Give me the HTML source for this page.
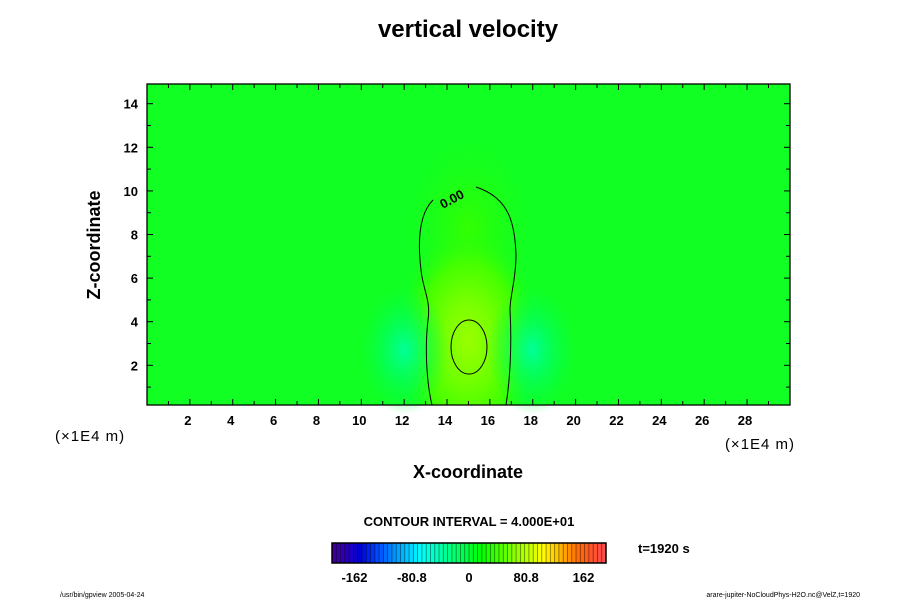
<!DOCTYPE html>
<html><head><meta charset="utf-8"><style>
body{margin:0;background:#fff;width:900px;height:600px;overflow:hidden;font-family:"Liberation Sans",sans-serif}
svg text{font-family:"Liberation Sans",sans-serif;font-weight:bold}
</style></head><body>
<svg id="c" width="900" height="600">
<defs>
<radialGradient id="gUp" cx="468" cy="340" r="70" gradientUnits="userSpaceOnUse" gradientTransform="translate(468 340) scale(1 1.6) translate(-468 -340)">
<stop offset="0" stop-color="#99ff00"/><stop offset="0.35" stop-color="#77ff00"/><stop offset="0.7" stop-color="#44ff00"/><stop offset="1" stop-color="#22ff11" stop-opacity="0"/></radialGradient>
<radialGradient id="gUp2" cx="468" cy="230" r="60" gradientUnits="userSpaceOnUse" gradientTransform="translate(468 230) scale(1 1.5) translate(-468 -230)">
<stop offset="0" stop-color="#33ff00"/><stop offset="1" stop-color="#22ff11" stop-opacity="0"/></radialGradient>
<radialGradient id="gDn" cx="0.5" cy="0.5" r="0.5"><stop offset="0" stop-color="#00ff99"/><stop offset="0.5" stop-color="#00ff66" stop-opacity="0.6"/><stop offset="1" stop-color="#00ff44" stop-opacity="0"/></radialGradient>
</defs>
<text x="468" y="37" font-size="24" text-anchor="middle">vertical velocity</text>
<g id="plot">
<rect x="147" y="84" width="643" height="321" fill="#11ff22"/>
<rect x="147" y="84" width="643" height="321" fill="url(#gUp2)"/>
<rect x="147" y="84" width="643" height="321" fill="url(#gUp)"/>
<ellipse cx="404" cy="350" rx="45" ry="65" fill="url(#gDn)"/>
<ellipse cx="532" cy="350" rx="45" ry="65" fill="url(#gDn)"/>
<path d="M433,200 C418,215 418,245 421,270 C423,290 431,300 428,320 C425,345 426,380 432,405 M476,187 C510,198 515,225 516,255 C516,280 510,295 510,310 C512,345 510,380 506,405" fill="none" stroke="#000" stroke-width="1"/>
<ellipse cx="469" cy="347" rx="18" ry="27" fill="none" stroke="#000" stroke-width="1"/>
<text x="454" y="203" font-size="13" text-anchor="middle" transform="rotate(-28 454 203)">0.00</text>
<rect x="147" y="84" width="643" height="321" fill="none" stroke="#000" stroke-width="1.3"/>
</g>
<g id="axes"></g>
<text x="55" y="441" font-size="15" style="font-weight:normal;letter-spacing:1px">(×1E4 m)</text>
<text x="760" y="449" font-size="15" style="font-weight:normal;letter-spacing:1px" text-anchor="middle">(×1E4 m)</text>
<text x="468" y="478" font-size="18" text-anchor="middle">X-coordinate</text>
<text x="100" y="245" font-size="18" text-anchor="middle" transform="rotate(-90 100 245)">Z-coordinate</text>
<text x="469" y="526" font-size="13" text-anchor="middle">CONTOUR INTERVAL = 4.000E+01</text>
<g id="cbar"></g>
<text x="638" y="553" font-size="13">t=1920 s</text>
<text x="60" y="597" font-size="7" style="font-weight:normal">/usr/bin/gpview 2005-04-24</text>
<text x="860" y="597" font-size="7" style="font-weight:normal" text-anchor="end">arare-jupiter-NoCloudPhys-H2O.nc@VelZ,t=1920</text>
</svg>
<script>
const xTicks=[2,4,6,8,10,12,14,16,18,20,22,24,26,28];
const yTicks=[2,4,6,8,10,12,14];
const cbarLabels=["-162","-80.8","0","80.8","162"];
const cbarValues=[-162,-80.8,0,80.8,162];
const NS="http://www.w3.org/2000/svg";
const X=v=>147+v*21.43, Y=v=>408.9-v*21.8;
const ax=document.getElementById('axes');
function el(t,a,p){const e=document.createElementNS(NS,t);for(const k in a)e.setAttribute(k,a[k]);(p||ax).appendChild(e);return e;}
for(let i=1;i<30;i++){const x=X(i),L=i%2?4:6;
const t1=el('line',{x1:x,x2:x,y1:405,y2:405-L,stroke:'#000'});
const t2=el('line',{x1:x,x2:x,y1:84,y2:84+L,stroke:'#000'});}
for(let i=1;i<15;i++){const y=Y(i),L=i%2?4:6;
const t1=el('line',{x1:147,x2:147+L,y1:y,y2:y,stroke:'#000'});
const t2=el('line',{x1:790,x2:790-L,y1:y,y2:y,stroke:'#000'});}
xTicks.forEach(v=>{const t=el('text',{x:X(v)-2,y:425,'font-size':13,'text-anchor':'middle'});t.textContent=v;
});
yTicks.forEach(v=>{const t=el('text',{x:138,y:Y(v)+5,'font-size':13,'text-anchor':'end'});t.textContent=v;
});
const cb=document.getElementById('cbar');const N=64,x0=332,w=274;
for(let i=0;i<N;i++){const f=i/(N-1);let h=265-f*265;let l=f>0.9?50+(f-0.9)*150:(f<0.15?30+f*130:50);
const r=el('rect',{x:x0+i*w/N,y:543,width:w/N+0.3,height:20,fill:`hsl(${h},100%,${l}%)`},cb);

el('line',{x1:x0+i*w/N,x2:x0+i*w/N,y1:543,y2:563,stroke:'rgba(0,0,0,0.5)','stroke-width':0.8},cb);}
el('rect',{x:x0,y:543,width:w,height:20,fill:'none',stroke:'#000','stroke-width':1.5},cb);
const CX=v=>469+v*0.707;
cbarValues.forEach((v,i)=>{const t=el('text',{x:CX(v),y:582,'font-size':13,'text-anchor':'middle'},cb);t.textContent=cbarLabels[i];
});
</script>
</body></html>
